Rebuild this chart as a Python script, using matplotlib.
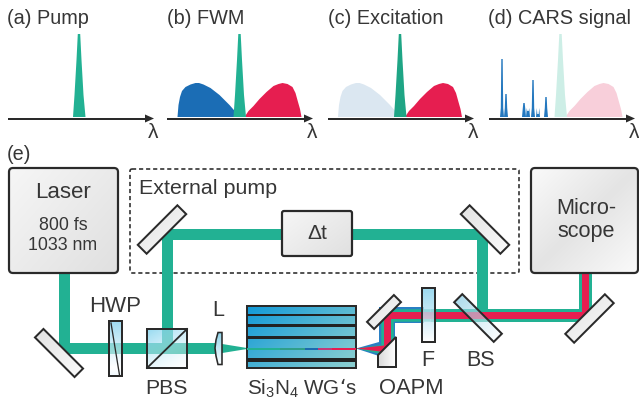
import numpy as np
import matplotlib
matplotlib.use("Agg")
import matplotlib.pyplot as plt
from matplotlib.patches import Polygon, FancyBboxPatch, Rectangle
from matplotlib.colors import to_rgba

plt.rcParams['font.family'] = ['Liberation Sans', 'DejaVu Sans']
plt.rcParams['mathtext.default'] = 'regular'

# ---- data ----
panel_titles = ["(a) Pump", "(b) FWM", "(c) Excitation", "(d) CARS signal"]
panel_x0 = [8, 167, 328, 489]
panel_pump_x = [79, 239.5, 400, 560.5]
title_x = [7, 167, 328, 488]

pump_dx = [-6, -4.5, -2.5, -1.2, 1.2, 2.5, 4.5, 6.5]
pump_y = [117, 95, 60, 34, 34, 60, 95, 117]

blue_dx = [-62, -61, -59.5, -57.5, -54, -49, -44, -40.5, -36, -29, -20, -10, -3, 1]
blue_y = [117, 105, 97, 91, 87, 84.5, 83, 83, 84.5, 88, 95, 105, 113, 117]
red_dx = [5, 9, 14, 20, 27, 34, 39, 43, 48, 53, 56, 58.5, 60.5, 62]
red_y = [117, 111, 106, 99, 92, 86, 84, 83, 84, 87, 93, 102, 109, 117]

cars_x = [502, 506, 524, 528, 533, 538, 546]
cars_top = [59, 94, 103, 111, 80, 114, 97]

GREEN = "#22b193"
DGREEN = "#1fa585"
BLUE = "#1b6db5"
CARSBLUE = "#2478bf"
RED = "#e61e50"
PALEBLUE = "#dbe7f1"
PALERED = "#f8cfda"
PALEGREEN = "#cdeee6"
DARK = "#2a2a2a"
TXT = "#363636"

fig = plt.figure(figsize=(6.39, 4.01), dpi=100)
ax = fig.add_axes([0, 0, 1, 1])
ax.axis("off")
PX = 0.72


def T(x, y, s, size=14.3, ha="left", va="center", z=20):
    ax.text(x, y, s, fontsize=size, ha=ha, va=va, color=TXT, zorder=z)


def poly(xs, ys, color, z=3, **kw):
    ax.add_patch(Polygon(np.column_stack([xs, ys]), closed=True, fc=color, ec="none", zorder=z, **kw))


def beam(xs, ys, w, color, z=5):
    ax.plot(xs, ys, color=color, lw=w * PX, solid_capstyle="butt", solid_joinstyle="miter", zorder=z)


def grad(patch, box, c0, c1, angle=45, z=6, outline=True, lw=2.0, mid=None):
    """Fill `patch` with a linear gradient between c0 and c1, box=(x0,y0,x1,y1)."""
    x0, y0, x1, y1 = box
    n = 64
    X, Y = np.meshgrid(np.linspace(0, 1, n), np.linspace(0, 1, n))
    a = np.deg2rad(angle)
    t = X * np.cos(a) + Y * np.sin(a)
    t = (t - t.min()) / (t.max() - t.min())
    if mid is not None:
        t = np.abs(t - mid) / max(mid, 1 - mid)
    c0r, c1r = np.array(to_rgba(c0)), np.array(to_rgba(c1))
    img = c0r[None, None, :] * (1 - t[..., None]) + c1r[None, None, :] * t[..., None]
    im = ax.imshow(img, extent=(x0, x1, y1, y0), origin="upper", aspect="auto", zorder=z, interpolation="bilinear")
    patch.set(fc="none", ec=DARK if outline else "none", lw=lw * PX, zorder=z + 0.5)
    ax.add_patch(patch)
    im.set_clip_path(patch)


def rot_rect(cx, cy, length, width, angle):
    a = np.deg2rad(angle)
    u = np.array([np.cos(a), np.sin(a)]) * length / 2
    v = np.array([-np.sin(a), np.cos(a)]) * width / 2
    c = np.array([cx, cy])
    return np.array([c - u - v, c + u - v, c + u + v, c - u + v])


def mirror(cx, cy, length, width, angle, c0="#e2e2e2", c1="#fbfbfb", z=8):
    pts = rot_rect(cx, cy, length, width, angle)
    box = (pts[:, 0].min(), pts[:, 1].min(), pts[:, 0].max(), pts[:, 1].max())
    grad(Polygon(pts, closed=True, joinstyle="miter"), box, c0, c1, angle=45, z=z)


def rbox(x0, y0, x1, y1, r=4, c0="#f6f6f6", c1="#e0e0e0", lw=2.2, z=8, angle=40, mid=None):
    p = FancyBboxPatch((x0 + r, y0 + r), x1 - x0 - 2 * r, y1 - y0 - 2 * r,
                       boxstyle=f"round,pad={r},rounding_size={r}")
    grad(p, (x0, y0, x1, y1), c0, c1, angle=angle, z=z, lw=lw, mid=mid)


# ---- spectra panels ----
for i, (x0, cx) in enumerate(zip(panel_x0, panel_pump_x)):
    T(title_x[i], 18.5, panel_titles[i], size=14.3)
    end = x0 + 143
    ax.plot([x0, end - 4], [118.5, 118.5], color=DARK, lw=2 * PX, zorder=10, solid_capstyle="butt")
    poly([end - 6, end + 3, end - 6], [114.5, 118.5, 122.5], DARK, z=10)
    T(end + 2.5, 133, "λ", size=15, ha="center")
    bx = cx + np.array(blue_dx)
    rx = cx + np.array(red_dx)
    px = cx + np.array(pump_dx)
    if i == 0:
        poly(px, pump_y, GREEN)
    elif i == 1:
        poly(bx, blue_y, BLUE, z=2)
        poly(rx, red_y, RED, z=2)
        poly(px, pump_y, GREEN)
    elif i == 2:
        poly(bx, blue_y, PALEBLUE, z=2)
        poly(rx, red_y, RED, z=2)
        poly(px, pump_y, DGREEN)
    else:
        poly(px, pump_y, PALEGREEN, z=3)
        poly(rx, red_y, PALERED, z=2)
        for sx, top in zip(cars_x, cars_top):
            poly([sx - 2, sx - 1.2, sx - 0.7, sx + 0.7, sx + 1.2, sx + 2],
                 [117, 108, top, top, 108, 117], CARSBLUE, z=4)

T(7, 154, "(e)", size=14.3)

# ---- green pump beams ----
beam([63.5, 63.5, 216], [272, 348, 348], 11, GREEN, z=4)
beam([166.5, 166.5, 282], [348, 233.5, 233.5], 11, GREEN, z=4)
beam([352, 481.5, 481.5], [233.5, 233.5, 312], 11, GREEN, z=4)
poly([216, 247, 247, 216], [343, 348, 349, 354], GREEN, z=4)

# ---- output beams ----
beam([430, 584.5, 584.5], [314.5, 314.5, 272], 13, GREEN, z=4)
poly([356, 379, 379], [348.5, 342, 356], "#2a7fc4", z=4)
poly([356, 381, 381], [348.5, 345, 354], GREEN, z=4.2)
poly([356, 384, 384], [348.5, 345.5, 352], RED, z=4.4)
beam([386.5, 386.5, 424], [352, 314.5, 314.5], 16, "#2a7fc4", z=4)
beam([386.5, 386.5, 430], [352, 314.5, 314.5], 12.5, GREEN, z=4.2)
beam([386.5, 386.5, 584.5, 584.5], [352, 314.5, 314.5, 272], 7, RED, z=4.6)

# ---- dashed box ----
ax.add_patch(FancyBboxPatch((132, 171), 385, 100, boxstyle="round,pad=2,rounding_size=2",
                            fc="none", ec=DARK, lw=1.6 * PX, ls=(0, (2.6, 1.8)), zorder=3))
T(139, 188, "External pump", size=15.4)

# ---- boxes ----
rbox(9, 168, 118, 273)
T(63, 192.5, "Laser", size=16, ha="center")
T(63, 225, "800 fs", size=12.8, ha="center")
T(63, 246, "1033 nm", size=12.8, ha="center")
rbox(282, 211, 352, 256, r=2)
T(317, 233.5, "Δt", size=15, ha="center")
rbox(531, 168, 638, 273, c0="#e4e4e4", c1="#fafafa", angle=45, mid=0.5)
T(586, 208, "Micro-", size=15.6, ha="center")
T(586, 232, "scope", size=15.6, ha="center")

# ---- mirrors ----
mirror(59, 353, 56, 12, 45)
mirror(162, 229.5, 56, 12.5, -45)
mirror(485, 229.5, 56, 12.5, 45)
mirror(589.5, 318.5, 56, 12.5, -45)
mirror(384, 312, 38, 10, -45)
mirror(478, 318, 56, 11.5, 45, c0="#7cc6e0b0", c1="#ffffff80")

# ---- HWP ----
grad(Rectangle((109, 321), 13, 55), (109, 321, 122, 376), "#ffffffa0", "#7fcfeec0", angle=90, z=8, mid=0.85)
ax.plot([111, 119.5], [323, 375], color=DARK, lw=1.3 * PX, zorder=9)

# ---- PBS ----
grad(Rectangle((147, 329), 40, 39), (147, 329, 187, 368), "#7fd2eed0", "#ffffff50", angle=60, z=8)
ax.plot([147, 187], [368, 329], color=DARK, lw=1.8 * PX, zorder=9)

# ---- lens ----
lens_x = [218, 216, 215, 216, 218, 222, 222]
lens_y = [332.5, 340, 348, 356, 364.5, 364.5, 332.5]
grad(Polygon(np.column_stack([lens_x, lens_y]), closed=True), (215, 332, 222, 365), "#8fd4ea", "#ffffff", angle=90, z=8, lw=1.6)

# ---- waveguide chip ----
wg_stripes_y = [315, 325.5, 337.5, 349, 360]
wg_stripes_h = [2.2, 3, 3.6, 2.6, 4.4]
grad(Rectangle((247, 306), 109, 62), (247, 306, 356, 368), "#129ad8", "#8ed0d0", angle=35, z=6)
for sy, sh in zip(wg_stripes_y, wg_stripes_h):
    ax.add_patch(Rectangle((247, sy - sh / 2), 109, sh, fc="#222222", ec="none", zorder=7))
wg_colors = [GREEN, "#2f9f8a", "#1c6ab0", "#c23a78", RED]
wg_edges = [247, 280, 305, 318, 332, 356]
for c, a, b in zip(wg_colors, wg_edges[:-1], wg_edges[1:]):
    ax.add_patch(Rectangle((a, 347.6), b - a, 2, fc=c, ec="none", zorder=7.5))

# ---- filter F ----
grad(Rectangle((422, 288), 13, 54), (422, 288, 435, 342), "#7ccdeac0", "#ffffffd0", angle=90, z=8)

# ---- OAPM ----
oapm_x = [378, 396, 396, 378]
oapm_y = [367, 367, 337, 355]
grad(Polygon(np.column_stack([oapm_x, oapm_y]), closed=True), (378, 337, 396, 367), "#d8d8d8", "#ffffff", angle=0, z=8)

# ---- labels ----
T(115, 306, "HWP", size=16, ha="center")
T(218.5, 311, "L", size=15.5, ha="center")
T(166.5, 388, "PBS", size=15.3, ha="center")
T(247, 388, "Si$_3$N$_4$ WG‘s", size=14.9)
T(411, 388, "OAPM", size=15.8, ha="center")
T(428, 360, "F", size=15.5, ha="center")
T(481, 360, "BS", size=15.5, ha="center")

ax.set_xlim(0, 639)
ax.set_ylim(401, 0)
fig.savefig("out.png", dpi=100)
